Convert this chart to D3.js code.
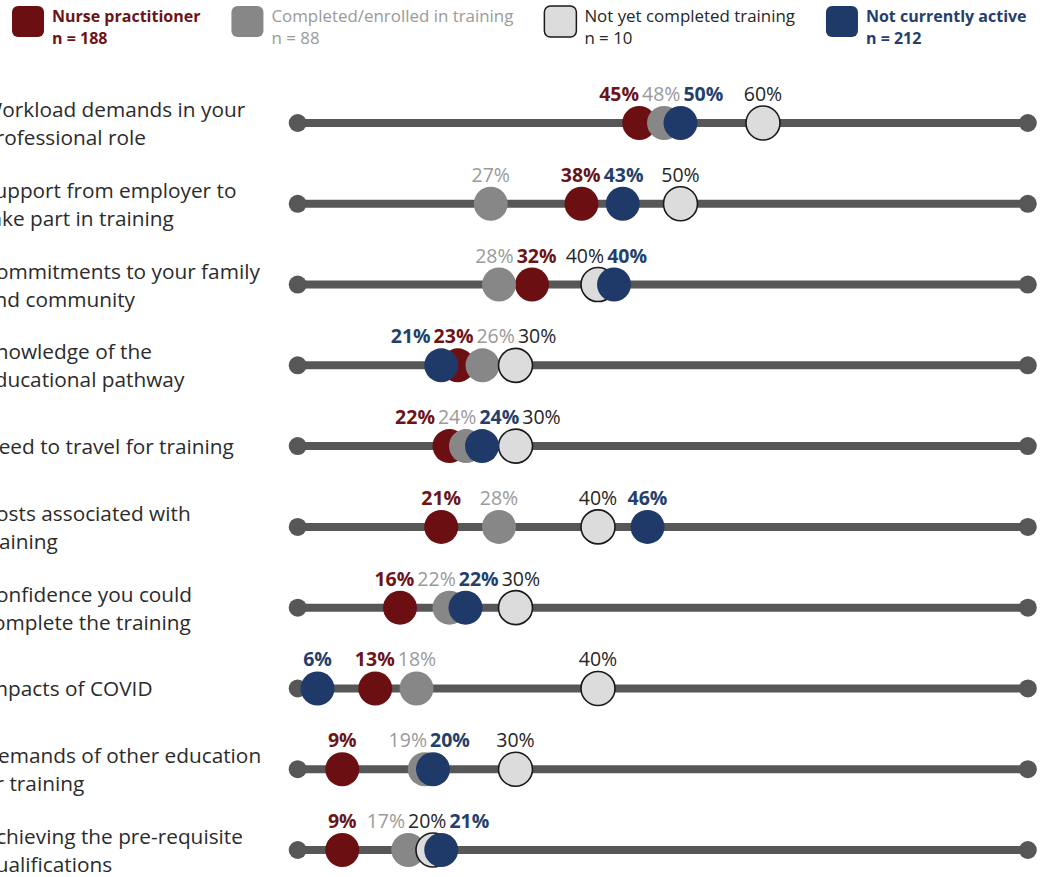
<!DOCTYPE html>
<html>
<head>
<meta charset="utf-8">
<script src="https://cdn.jsdelivr.net/npm/d3@7"></script>
<style>
  html, body { margin: 0; padding: 0; background: #ffffff; }
  svg { display: block; }
</style>
</head>
<body>
<svg id="chart" width="1048" height="877"></svg>
<script>
// ---------------- DATA ----------------
const categories = [
  ["Workload demands in your", "professional role"],
  ["Support from employer to", "take part in training"],
  ["Commitments to your family", "and community"],
  ["Knowledge of the", "educational pathway"],
  ["Need to travel for training"],
  ["Costs associated with", "training"],
  ["Confidence you could", "complete the training"],
  ["Impacts of COVID"],
  ["Demands of other education", "or training"],
  ["Achieving the pre-requisite", "qualifications"]
];
const seriesNames = ["Nurse practitioner", "Completed/enrolled in training", "Not yet completed training", "Not currently active"];
const seriesN = [188, 88, 10, 212];
const nursePractitioner = [45, 38, 32, 23, 22, 21, 16, 13, 9, 9];
const completedEnrolled = [48, 27, 28, 26, 24, 28, 22, 18, 19, 17];
const notYetCompleted   = [60, 50, 40, 30, 30, 40, 30, 40, 30, 20];
const notCurrentlyActive = [50, 43, 40, 21, 24, 46, 22, 6, 20, 21];
const trackExtent = [3.6, 92.1]; // percent values spanned by each row's track

// ---------------- STYLE ----------------
const dotFill   = ["#6c0f12", "#878787", "#dcdcdc", "#1f3a68"];
const dotStroke = [null, null, "#1a1a1a", null];
const textFill  = ["#6c1417", "#9a9a9a", "#262626", "#243f6c"];
const textWeight = ["bold", "normal", "normal", "bold"];
const trackColor = "#575757";
const FONT = "'Open Sans', 'DejaVu Sans', sans-serif";

const allSeries = [nursePractitioner, completedEnrolled, notYetCompleted, notCurrentlyActive];

const svg = d3.select("#chart");

const x = d3.scaleLinear().domain([0, 100]).range([268, 1093]);
const y = d3.scalePoint().domain(d3.range(categories.length)).range([123, 850]);

const R = 17;
const TIE_OFFSET = 16;

// ---------------- LEGEND ----------------
const legend = svg.append("g").attr("class", "legend");
let lx = 12;
seriesNames.forEach((name, i) => {
  const bold = textWeight[i] === "bold";
  const g = legend.append("g").attr("transform", `translate(${lx},0)`);
  g.append("rect")
    .attr("x", 0).attr("y", 6).attr("width", 32).attr("height", 31).attr("rx", 6)
    .attr("fill", dotFill[i])
    .attr("stroke", dotStroke[i] || "none").attr("stroke-width", 1.5);
  const tx = 40;
  const t = g.append("text")
    .attr("x", tx).attr("y", 22)
    .attr("font-family", FONT).attr("font-size", bold ? 16 : 16.9)
    .attr("font-weight", bold ? 700 : 400)
    .attr("fill", textFill[i]);
  t.append("tspan").attr("x", tx).attr("dy", 0).text(name);
  t.append("tspan").attr("x", tx).attr("dy", 22).text("n = " + seriesN[i]);
  const w = t.node().getBBox().width;
  lx += tx + w + 31;
});

// ---------------- ROWS ----------------
const rows = svg.append("g").attr("class", "rows");

categories.forEach((lines, r) => {
  const cy = y(r);
  const g = rows.append("g").attr("class", "row");

  // category label
  const lt = g.append("text")
    .attr("font-family", FONT).attr("font-size", 20.8)
    .attr("fill", "#2b2b2b");
  const lineH = 28;
  const startDy = -(lines.length - 1) * lineH / 2;
  lines.forEach((ln, k) => {
    lt.append("tspan")
      .attr("x", -17)
      .attr("y", cy + startDy + k * lineH + 8)
      .text(ln);
  });

  // track
  g.append("line")
    .attr("x1", x(trackExtent[0])).attr("x2", x(trackExtent[1]))
    .attr("y1", cy).attr("y2", cy)
    .attr("stroke", trackColor).attr("stroke-width", 8);
  g.selectAll("circle.cap").data(trackExtent).join("circle")
    .attr("class", "cap")
    .attr("cx", d => x(d)).attr("cy", cy).attr("r", 9)
    .attr("fill", trackColor);

  // points (sorted by value, ties by series order)
  const pts = allSeries.map((arr, s) => ({ s, v: arr[r] }));
  const sorted = pts.slice().sort((a, b) => a.v - b.v || a.s - b.s);
  sorted.forEach((p, k) => {
    p.cx = x(p.v);
    if (k > 0 && sorted[k - 1].v === p.v) p.cx = sorted[k - 1].cx + TIE_OFFSET;
  });

  // dots in legend order
  g.selectAll("circle.dot").data(pts).join("circle")
    .attr("class", "dot")
    .attr("cx", d => d.cx).attr("cy", cy).attr("r", R)
    .attr("fill", d => dotFill[d.s])
    .attr("stroke", d => dotStroke[d.s] || "none")
    .attr("stroke-width", 1.6);

  // labels
  const labels = g.selectAll("text.val").data(sorted).join("text")
    .attr("class", "val")
    .attr("font-family", FONT).attr("font-size", 19.5)
    .attr("font-weight", d => textWeight[d.s] === "bold" ? 700 : 400)
    .attr("fill", d => textFill[d.s])
    .attr("text-anchor", "middle")
    .attr("y", cy - 22)
    .text(d => d.v + "%");
  labels.each(function (d) { d.w = this.getComputedTextLength(); d.lx = d.cx; });

  // relax overlapping labels
  const gap = 3;
  for (let it = 0; it < 200; it++) {
    let moved = false;
    for (let k = 1; k < sorted.length; k++) {
      const a = sorted[k - 1], b = sorted[k];
      const need = (a.w + b.w) / 2 + gap;
      const have = b.lx - a.lx;
      if (have < need - 0.01) {
        const push = (need - have) / 2;
        a.lx -= push; b.lx += push; moved = true;
      }
    }
    if (!moved) break;
  }
  labels.attr("x", d => d.lx);
});
</script>
</body>
</html>
